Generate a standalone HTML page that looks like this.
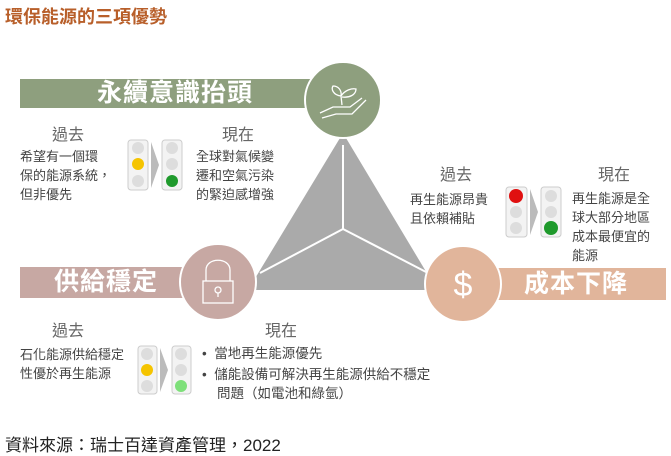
<!DOCTYPE html>
<html><head><meta charset="utf-8"><style>
body{margin:0;width:671px;height:456px;background:#fff;position:relative;overflow:hidden;font-family:"Liberation Sans","Noto Sans CJK TC",sans-serif;}
.t{position:absolute;white-space:nowrap;color:#444;}
.h{font-size:16px;color:#666;}
.b{font-size:13px;line-height:19px;color:#444;}
.ban{position:absolute;color:#fff;font-weight:bold;font-size:25px;letter-spacing:1px;line-height:30px;}
</style></head><body>
<div class="t" style="left:5px;top:3px;font-size:18px;font-weight:bold;color:#b85f2a;">環保能源的三項優勢</div>
<svg width="671" height="456" style="position:absolute;left:0;top:0">
<rect x="20" y="79" width="300" height="29" fill="#8e9f7e"/>
<rect x="20" y="267" width="180" height="31" fill="#c7a8a3"/>
<rect x="480" y="268" width="186" height="32" fill="#e1b59b"/>
<polygon points="343,133 248,290 437,290" fill="#aaa"/>
<line x1="343" y1="145" x2="343" y2="229" stroke="#fff" stroke-width="2"/>
<line x1="343" y1="229" x2="260" y2="273" stroke="#fff" stroke-width="2"/>
<line x1="343" y1="229" x2="428" y2="273" stroke="#fff" stroke-width="2"/>
<circle cx="343" cy="100" r="38" fill="#8e9f7e" stroke="#fff" stroke-width="2"/>
<circle cx="218" cy="282" r="38" fill="#c7a8a3" stroke="#fff" stroke-width="2"/>
<circle cx="463" cy="284" r="38" fill="#e1b59b" stroke="#fff" stroke-width="2"/>
<g fill="none" stroke="#fff" stroke-width="1.3">
<path d="M320,113 L333,107 L350,107 L362,98 M322,118 L336,114 L352,114 L366,100"/>
<path d="M342,105 L341,96 M341,96 C333,95 331,89 333,86 C338,86 342,90 341,96 M341,96 C345,90 352,88 356,89 C356,95 349,98 342,97"/>
<path d="M206,281 L206,270 C206,257 230,257 230,270 L230,281"/>
<rect x="203" y="281" width="30" height="22"/>
<circle cx="218" cy="290" r="3"/><line x1="218" y1="293" x2="218" y2="297"/>
</g>
<text x="463" y="296" font-size="34" fill="#fff" text-anchor="middle" font-family="Liberation Sans">$</text>
<g>
<rect x="128" y="140" width="20" height="50" rx="3" fill="#f3f3f3" stroke="#ccc"/>
<circle cx="138" cy="148" r="6" fill="#ddd"/><circle cx="138" cy="164" r="6" fill="#f5c400"/><circle cx="138" cy="181" r="6" fill="#ddd"/>
<polygon points="151,142 159,165 151,188" fill="#bbb"/>
<rect x="162" y="140" width="20" height="50" rx="3" fill="#f3f3f3" stroke="#ccc"/>
<circle cx="172" cy="148" r="6" fill="#ddd"/><circle cx="172" cy="164" r="6" fill="#ddd"/><circle cx="172" cy="181" r="6" fill="#1f9a2c"/>

<rect x="506" y="187" width="21" height="50" rx="3" fill="#f3f3f3" stroke="#ccc"/>
<circle cx="516" cy="196" r="7" fill="#e01010"/><circle cx="516" cy="212" r="6" fill="#ddd"/><circle cx="516" cy="228" r="6" fill="#ddd"/>
<polygon points="530,189 538,212 530,235" fill="#bbb"/>
<rect x="541" y="187" width="20" height="50" rx="3" fill="#f3f3f3" stroke="#ccc"/>
<circle cx="551" cy="196" r="6" fill="#ddd"/><circle cx="551" cy="212" r="6" fill="#ddd"/><circle cx="551" cy="228" r="7" fill="#1f9a2c"/>

<rect x="138" y="346" width="19" height="48" rx="3" fill="#f3f3f3" stroke="#ccc"/>
<circle cx="147" cy="354" r="6" fill="#ddd"/><circle cx="147" cy="370" r="6" fill="#f5c400"/><circle cx="147" cy="386" r="6" fill="#ddd"/>
<polygon points="160,348 168,370 160,392" fill="#bbb"/>
<rect x="172" y="346" width="19" height="48" rx="3" fill="#f3f3f3" stroke="#ccc"/>
<circle cx="181" cy="354" r="6" fill="#ddd"/><circle cx="181" cy="370" r="6" fill="#ddd"/><circle cx="181" cy="386" r="6" fill="#7ee07a"/>
</g>
</svg>
<div class="ban" style="left:97px;top:78px;">永續意識抬頭</div>
<div class="ban" style="left:54px;top:267px;">供給穩定</div>
<div class="ban" style="left:524px;top:269px;">成本下降</div>

<div class="t h" style="left:52px;top:121px;">過去</div>
<div class="t b" style="left:20px;top:147px;">希望有一個環<br>保的能源系統，<br>但非優先</div>
<div class="t h" style="left:222px;top:121px;">現在</div>
<div class="t b" style="left:196px;top:147px;">全球對氣候變<br>遷和空氣污染<br>的緊迫感增強</div>

<div class="t h" style="left:440px;top:161px;">過去</div>
<div class="t b" style="left:410px;top:190px;">再生能源昂貴<br>且依賴補貼</div>
<div class="t h" style="left:598px;top:161px;">現在</div>
<div class="t b" style="left:572px;top:189px;">再生能源是全<br>球大部分地區<br>成本最便宜的<br>能源</div>

<div class="t h" style="left:52px;top:317px;">過去</div>
<div class="t b" style="left:20px;top:345px;">石化能源供給穩定<br>性優於再生能源</div>
<div class="t h" style="left:265px;top:317px;">現在</div>
<div class="t b" style="left:202px;top:344px;font-size:13.5px;">•&nbsp; 當地再生能源優先</div>
<div class="t b" style="left:202px;top:365px;font-size:13.5px;">•&nbsp; 儲能設備可解決再生能源供給不穩定<br>&nbsp;&nbsp;&nbsp; 問題（如電池和綠氫）</div>

<div class="t" style="left:5px;top:431px;font-size:17px;color:#222;">資料來源：瑞士百達資產管理，2022</div>
</body></html>
